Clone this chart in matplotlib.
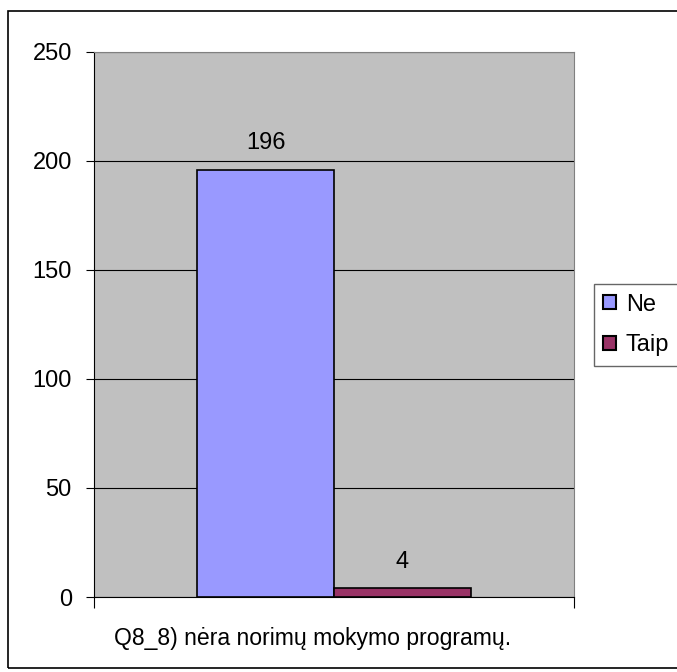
import matplotlib.pyplot as plt
from matplotlib.patches import Rectangle, Patch

plt.rcParams['font.family'] = ['Liberation Sans', 'DejaVu Sans']

# data
series = ['Ne', 'Taip']
values = [196, 4]
colors = ['#9999FF', '#993366']
category = 'Q8_8) nėra norimų mokymo programų.'
yticks = [0, 50, 100, 150, 200, 250]

W, H = 677, 672
fig = plt.figure(figsize=(W / 100, H / 100), dpi=100)

# outer frame of the chart
fig.patches.append(Rectangle((8 / W, 1 - 668 / H), 700 / W, 657 / H,
                             transform=fig.transFigure, fill=False,
                             edgecolor='black', linewidth=1.2))

ax = fig.add_axes([94 / W, 1 - 597 / H, 480 / W, 545 / H])
ax.set_facecolor('#C0C0C0')

width = 0.57
offsets = [-width / 2, width / 2]
for name, v, c, off in zip(series, values, colors, offsets):
    ax.bar(off, v, width=width, color=c, edgecolor='black', linewidth=1.2, zorder=3)
    ax.text(off, v + 7, str(v), ha='center', va='bottom', fontsize=17)

ax.set_xlim(-1, 1)
ax.set_ylim(0, 250)
ax.set_yticks(yticks)
ax.set_yticklabels([str(t) for t in yticks], fontsize=17)
ax.yaxis.grid(True, color='black', linewidth=0.8, zorder=0)
ax.set_axisbelow(True)
ax.set_xticks([-1, 1])
ax.set_xticklabels(['', ''])
ax.tick_params(axis='x', length=8, color='black', width=0.8)
ax.tick_params(axis='y', length=6, color='black', width=0.8, pad=10)
ax.set_xlabel(category, fontsize=16.6)
ax.xaxis.set_label_coords(0.456, -0.055)

for s in ['top', 'right']:
    ax.spines[s].set_color('#808080')
ax.spines['left'].set_color('black')
ax.spines['bottom'].set_color('black')

handles = [Patch(facecolor=c, edgecolor='black', linewidth=1.5) for c in colors]
leg = fig.legend(handles, series, loc='center left',
                 bbox_to_anchor=(594 / W, 1 - 325 / H), fontsize=17,
                 frameon=True, fancybox=False, handlelength=0.55, handleheight=0.55,
                 handletextpad=0.4, borderpad=0.4, labelspacing=0.8,
                 borderaxespad=0)
leg.get_frame().set_edgecolor('#404040')
leg.get_frame().set_linewidth(1.0)

fig.savefig('out.png', dpi=100)
